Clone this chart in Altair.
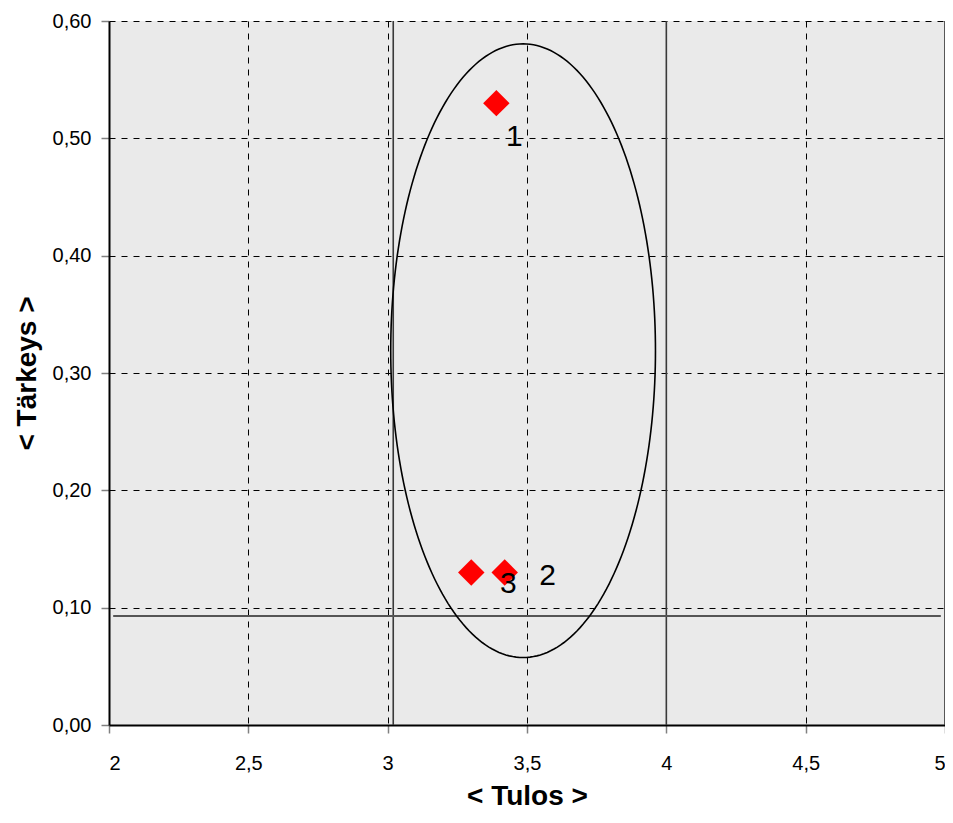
import altair as alt
import numpy as np
import pandas as pd

# ---- data ----
tulos = [3.39, 3.42, 3.30]
tarkeys = [0.53, 0.13, 0.13]
labels = ["1", "2", "3"]

x_ticks = [2, 2.5, 3, 3.5, 4, 4.5, 5]
y_ticks = [0.0, 0.1, 0.2, 0.3, 0.4, 0.5, 0.6]

vline_x = [3.02, 4.0]
frame_x = [5.0]
hline_y = [0.093]
hline_x_start = [2.015]
hline_x_end = [4.985]

ellipse_center = [3.486, 0.319]
ellipse_radii = [0.475, 0.2615]

# ---- tables ----
pts = pd.DataFrame({"Tulos": tulos, "Tarkeys": tarkeys, "label": labels})
vlines = pd.DataFrame({"x": vline_x})
frame = pd.DataFrame({"x": frame_x})
hlines = pd.DataFrame({"y": hline_y, "x": hline_x_start, "x2": hline_x_end})

t = np.linspace(0, 2 * np.pi, 241)
ell = pd.DataFrame({
    "x": ellipse_center[0] + ellipse_radii[0] * np.cos(t),
    "y": ellipse_center[1] + ellipse_radii[1] * np.sin(t),
    "i": np.arange(len(t)),
})

FONT = "Liberation Sans"


def xenc(field):
    return alt.X(
        field, type="quantitative",
        scale=alt.Scale(domain=[2, 5], nice=False, zero=False),
        axis=alt.Axis(
            values=x_ticks,
            labelExpr="replace(toString(datum.value), '.', ',')",
            title="< Tulos >",
            grid=True,
            labelPadding=20,
            titlePadding=9,
        ),
    )


def yenc(field):
    return alt.Y(
        field, type="quantitative",
        scale=alt.Scale(domain=[0, 0.6], nice=False, zero=False),
        axis=alt.Axis(
            values=y_ticks,
            labelExpr="replace(format(datum.value, '.2f'), '.', ',')",
            title="< Tärkeys >",
            grid=True,
            labelPadding=10,
            titlePadding=11,
        ),
    )


base_pts = alt.Chart(pts)

points = base_pts.mark_point(
    shape="diamond", filled=True, size=700, color="#FF0000", opacity=1, strokeWidth=0
).encode(x=xenc("Tulos"), y=yenc("Tarkeys"))

vrules = alt.Chart(vlines).mark_rule(color="#3a3a3a", strokeWidth=1.6).encode(
    x=xenc("x")
)
frule = alt.Chart(frame).mark_rule(color="#333333", strokeWidth=1.6).encode(
    x=xenc("x")
)
hrule = alt.Chart(hlines).mark_rule(color="#555555", strokeWidth=2).encode(
    x=xenc("x"), x2="x2", y=yenc("y")
)

ellipse = alt.Chart(ell).mark_line(color="black", strokeWidth=1.6).encode(
    x=xenc("x"), y=yenc("y"), order="i:Q"
)

offsets = {"1": (18, 34), "2": (43, 4), "3": (37, 12)}
texts = []
for lab, (dx, dy) in offsets.items():
    texts.append(
        base_pts.transform_filter(alt.datum.label == lab)
        .mark_text(font=FONT, fontSize=30, color="black", dx=dx, dy=dy,
                   align="center", baseline="middle")
        .encode(x=xenc("Tulos"), y=yenc("Tarkeys"), text="label:N")
    )

chart = alt.layer(vrules, frule, hrule, ellipse, points, *texts).properties(
    width=836,
    height=704,
    autosize=alt.AutoSizeParams(type="none"),
    padding={"left": 101, "top": 13, "right": 0, "bottom": 84},
    background="white",
).configure_view(
    fill="#EAEAEA", stroke=None
).configure_axis(
    domainColor="black",
    domainWidth=2,
    tickColor="#808080",
    tickSize=8,
    tickWidth=1.5,
    labelFont=FONT,
    labelFontSize=20,
    labelColor="black",
    titleFont=FONT,
    titleFontSize=28,
    titleFontWeight="bold",
    titleColor="black",
    gridColor="black",
    gridOpacity=1,
    gridWidth=1,
    gridDash=[6, 6],
)

chart.save("out.html", embed_options={"renderer": "svg", "actions": False})
